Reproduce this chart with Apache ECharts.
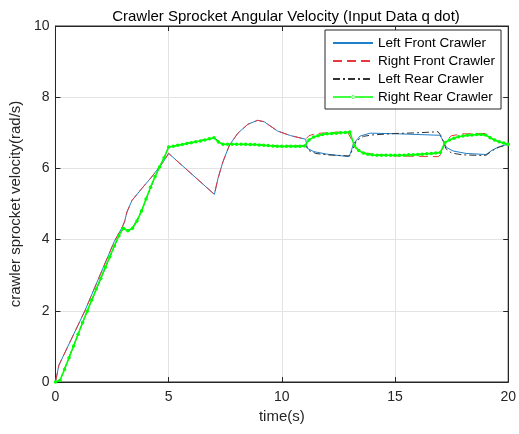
<!DOCTYPE html>
<html>
<head>
<meta charset="utf-8">
<script src="https://cdn.jsdelivr.net/npm/echarts@6/dist/echarts.min.js"></script>
<style>html,body{margin:0;padding:0;background:#fff;}#c{width:519px;height:434px;}</style>
</head>
<body>
<div id="c"></div>
<script>
const titleText = 'Crawler Sprocket Angular Velocity (Input Data q dot)';
const xName = 'time(s)';
const yName = 'crawler sprocket velocity(rad/s)';
const seriesNames = ['Left Front Crawler', 'Right Front Crawler', 'Left Rear Crawler', 'Right Rear Crawler'];
const xTicks = [0, 5, 10, 15, 20];
const yTicks = [0, 2, 4, 6, 8, 10];

const leftFront = [
  [0,0],[0.15,0.47],[1.3,2.0],[2.0,3.05],[2.6,3.95],[2.95,4.35],[3.05,4.5],[3.16,4.78],[3.38,5.1],[3.82,5.44],
  [4.25,5.76],[4.77,6.19],[5.0,6.42],[7.02,5.27],[7.18,5.72],[7.4,6.19],[7.69,6.66],[8.06,6.99],[8.5,7.24],
  [8.93,7.35],[9.22,7.31],[9.81,7.05],[10.39,6.92],[11.05,6.82],[11.13,6.56],[11.42,6.47],[12.0,6.4],
  [12.95,6.33],[13.03,6.42],[13.17,6.7],[13.46,6.91],[13.9,6.99],[15.2,6.97],[16.97,6.93],[17.05,6.86],
  [17.27,6.59],[17.56,6.49],[18.14,6.42],[19.02,6.39],[19.31,6.52],[19.61,6.61],[20,6.68]
];
const rightFront = [
  [0,0],[0.15,0.47],[1.3,2.0],[2.0,3.05],[2.6,3.95],[2.95,4.35],[3.05,4.5],[3.16,4.78],[3.38,5.1],[3.82,5.44],
  [4.25,5.76],[4.77,6.19],[5.0,6.42],[7.02,5.27],[7.18,5.72],[7.4,6.19],[7.69,6.66],[8.06,6.99],[8.5,7.24],
  [8.93,7.35],[9.22,7.31],[9.81,7.05],[10.39,6.92],[11.05,6.82],[11.2,6.92],[11.5,6.98],[12.5,7.02],
  [12.9,7.02],[13.05,6.85],[13.2,6.6],[13.5,6.45],[14.0,6.4],[15.0,6.35],[16.0,6.34],[16.9,6.33],
  [17.05,6.4],[17.2,6.75],[17.5,6.92],[18.0,6.97],[19.0,6.98],[19.3,6.82],[19.6,6.74],[20,6.67]
];
const leftRear = [
  [0,0],[0.2,0.05],[1.4,1.99],[2.8,4.11],[3.0,4.32],[3.2,4.25],[3.4,4.32],[3.8,4.8],[4.4,5.77],[4.8,6.3],
  [5.0,6.6],[7.0,6.86],[7.4,6.68],[9.0,6.66],[10.0,6.62],[11.05,6.64],[11.2,6.5],[11.5,6.42],[12.0,6.38],
  [13.0,6.35],[13.1,6.5],[13.3,6.78],[13.6,6.9],[14.0,6.94],[15.0,6.98],[16.0,7.0],[16.9,7.03],[17.05,6.9],
  [17.25,6.55],[17.5,6.43],[18.0,6.38],[19.0,6.36],[19.3,6.5],[19.6,6.6],[20,6.67]
];
const rightRear = [
  [0,0],[0.2,0.05],[0.4,0.35],[0.6,0.68],[0.8,1.01],[1.0,1.34],[1.2,1.67],[1.4,1.99],[1.6,2.30],[1.8,2.61],
  [2.0,2.91],[2.2,3.22],[2.4,3.52],[2.6,3.82],[2.8,4.11],[3.0,4.32],[3.2,4.25],[3.4,4.32],[3.6,4.52],[3.8,4.80],
  [4.0,5.14],[4.2,5.47],[4.4,5.77],[4.6,6.04],[4.8,6.30],[5.0,6.60],[5.2,6.62],[5.4,6.65],[5.6,6.67],[5.8,6.70],
  [6.0,6.72],[6.2,6.75],[6.4,6.77],[6.6,6.80],[6.8,6.83],[7.0,6.86],[7.2,6.74],[7.4,6.68],[7.6,6.68],[7.8,6.68],
  [8.0,6.68],[8.2,6.68],[8.4,6.68],[8.6,6.67],[8.8,6.67],[9.0,6.66],[9.2,6.65],[9.4,6.64],[9.6,6.63],[9.8,6.62],
  [10.0,6.62],[10.2,6.62],[10.4,6.62],[10.6,6.62],[10.8,6.62],[11.0,6.63],[11.2,6.80],[11.4,6.88],[11.6,6.92],[11.8,6.95],
  [12.0,6.97],[12.2,6.98],[12.4,6.99],[12.6,7.00],[12.8,7.01],[13.0,7.02],[13.2,6.64],[13.4,6.50],[13.6,6.43],[13.8,6.40],
  [14.0,6.38],[14.2,6.37],[14.4,6.37],[14.6,6.37],[14.8,6.37],[15.0,6.37],[15.2,6.37],[15.4,6.37],[15.6,6.38],[15.8,6.38],
  [16.0,6.39],[16.2,6.40],[16.4,6.41],[16.6,6.42],[16.8,6.43],[17.0,6.45],[17.2,6.72],[17.4,6.80],[17.6,6.85],[17.8,6.89],
  [18.0,6.91],[18.2,6.93],[18.4,6.94],[18.6,6.95],[18.8,6.95],[19.0,6.94],[19.2,6.86],[19.4,6.80],[19.6,6.75],[19.8,6.71],
  [20.0,6.68]
];

const FONT = '"Liberation Sans", Arial, Helvetica, sans-serif';
const axisColor = '#262626';
const chart = echarts.init(document.getElementById('c'), null, {renderer: 'canvas'});

const baseX = {
  type: 'value', min: xTicks[0], max: xTicks[xTicks.length - 1], interval: 5,
  axisLine: {show: true, onZero: false, lineStyle: {color: axisColor, width: 1}},
  axisTick: {show: true, inside: true, length: 5, lineStyle: {color: axisColor}},
  splitLine: {show: false}
};
const baseY = {
  type: 'value', min: yTicks[0], max: yTicks[yTicks.length - 1], interval: 2,
  axisLine: {show: true, onZero: false, lineStyle: {color: axisColor, width: 1}},
  axisTick: {show: true, inside: true, length: 5, lineStyle: {color: axisColor}},
  splitLine: {show: false}
};

const hiddenSymbol = {opacity: 0, borderWidth: 0};
const greenLegendIcon = 'path://M0,5.8 L40,5.8 L40,7.2 L0,7.2 Z M18.2,6.5 A1.8,1.8 0 1 0 21.8,6.5 A1.8,1.8 0 1 0 18.2,6.5 Z';

chart.setOption({
  animation: false,
  backgroundColor: '#fff',
  title: {
    text: titleText, left: 281, top: 4, textAlign: 'center',
    textStyle: {fontFamily: FONT, fontSize: 15, fontWeight: 'normal', color: '#000'}
  },
  grid: {left: 53, right: 10, top: 26, bottom: 52, containLabel: false, show: true, borderColor: axisColor, borderWidth: 1, backgroundColor: '#fff'},
  legend: {
    orient: 'vertical', left: 325, top: 30,
    data: [
      {name: seriesNames[0], itemStyle: hiddenSymbol},
      {name: seriesNames[1], itemStyle: hiddenSymbol},
      {name: seriesNames[2], itemStyle: hiddenSymbol},
      {name: seriesNames[3], icon: greenLegendIcon}
    ],
    backgroundColor: '#fff', borderColor: axisColor, borderWidth: 1, borderRadius: 0,
    padding: [6, 6, 5, 7], itemGap: 4, itemWidth: 40, itemHeight: 13,
    textStyle: {fontFamily: FONT, fontSize: 13.5, color: '#000', padding: [0, 0, 0, 0]}
  },
  xAxis: [
    Object.assign({}, baseX, {
      position: 'bottom', name: xName, nameLocation: 'middle', nameGap: 23,
      nameTextStyle: {fontFamily: FONT, fontSize: 15, color: axisColor},
      axisLabel: {fontFamily: FONT, fontSize: 14, color: axisColor, margin: 8},
      splitLine: {show: true, lineStyle: {color: '#e3e3e3', width: 1}}
    }),
    Object.assign({}, baseX, {position: 'top', axisLabel: {show: false}})
  ],
  yAxis: [
    Object.assign({}, baseY, {
      position: 'left', name: yName, nameLocation: 'middle', nameGap: 26,
      nameTextStyle: {fontFamily: FONT, fontSize: 15, color: axisColor},
      axisLabel: {fontFamily: FONT, fontSize: 14, color: axisColor, margin: 6},
      splitLine: {show: true, lineStyle: {color: '#e3e3e3', width: 1}}
    }),
    Object.assign({}, baseY, {position: 'right', axisLabel: {show: false}})
  ],
  series: [
    {name: seriesNames[0], type: 'line', data: leftFront, symbol: 'none', smooth: false,
     lineStyle: {color: '#1f7fc8', width: 1}, itemStyle: {color: '#1f7fc8'}},
    {name: seriesNames[1], type: 'line', data: rightFront, symbol: 'none',
     lineStyle: {color: '#e8383d', width: 1, type: [9, 5]}, itemStyle: {color: '#e8383d'}},
    {name: seriesNames[2], type: 'line', data: leftRear, symbol: 'none',
     lineStyle: {color: '#333333', width: 1, type: [7, 3, 2, 3]}, itemStyle: {color: '#333333'}},
    {name: seriesNames[3], type: 'line', data: rightRear, symbol: 'circle', symbolSize: 3.5, showSymbol: true,
     lineStyle: {color: '#00ff00', width: 1.6}, itemStyle: {color: '#00ff00'}}
  ]
});
</script>
</body>
</html>
